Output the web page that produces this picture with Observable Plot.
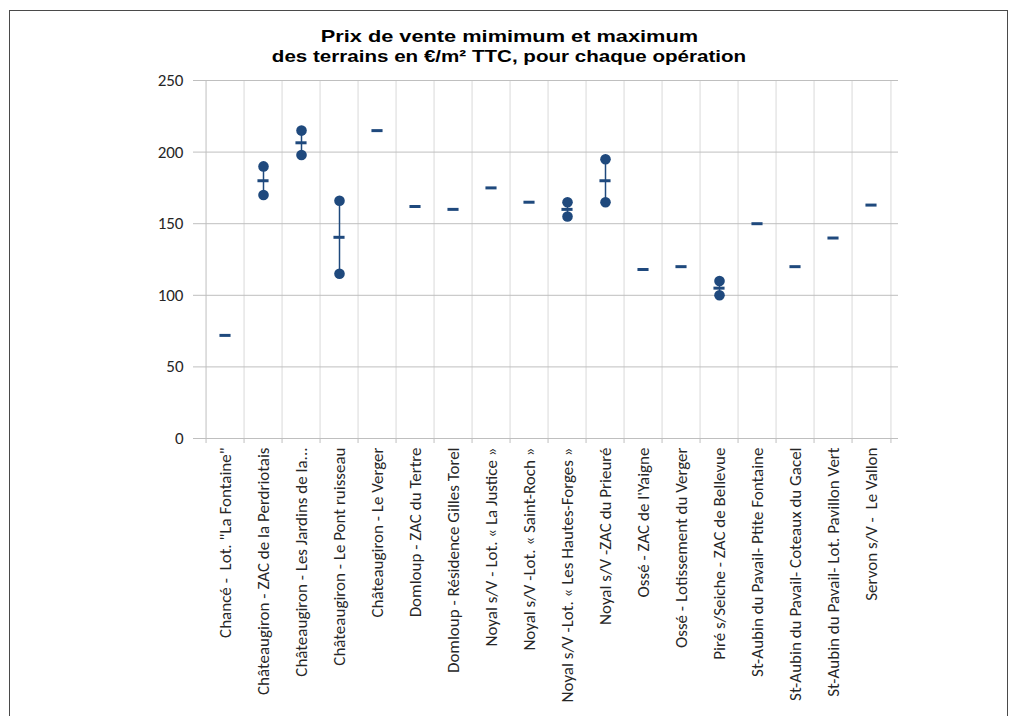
<!DOCTYPE html>
<html>
<head>
<meta charset="utf-8">
<script src="https://cdn.jsdelivr.net/npm/d3@7"></script>
<script src="https://cdn.jsdelivr.net/npm/@observablehq/plot@0.6"></script>
<style>
  html, body { margin: 0; padding: 0; background: #fff; }
  body { width: 1016px; height: 716px; overflow: hidden; position: relative; }
  #frame { position: absolute; left: 9px; top: 10px; width: 997px; height: 720px;
           border: 1.5px solid #4a4a4a; border-bottom: none; }
  #title { position: absolute; left: 10px; top: 27px; width: 998px; text-align: center;
           font: bold 17px "Liberation Sans", Arial, sans-serif; line-height: 19.5px; color: #000; }
  #title span { display: inline-block; transform-origin: 50% 50%; }
  #t1 { transform: scaleX(1.28); }
  #t2 { transform: scaleX(1.21); }
  #chart { position: absolute; left: 0; top: 70px; }
  #chart text { white-space: pre; }
</style>
</head>
<body>
<div id="frame"></div>
<div id="title"><span id="t1">Prix de vente mimimum et maximum</span><br><span id="t2">des terrains en €/m² TTC, pour chaque opération</span></div>
<div id="chart"></div>
<script>
const categories = [
  'Chancé -  Lot. "La Fontaine"',
  "Châteaugiron - ZAC de la Perdriotais",
  "Châteaugiron - Les Jardins de la...",
  "Châteaugiron - Le Pont ruisseau",
  "Châteaugiron - Le Verger",
  "Domloup - ZAC du Tertre",
  "Domloup - Résidence Gilles Torel",
  "Noyal s/V - Lot. « La Justice »",
  "Noyal s/V -Lot. « Saint-Roch »",
  "Noyal s/V -Lot. « Les Hautes-Forges »",
  "Noyal s/V -ZAC du Prieuré",
  "Ossé - ZAC de l'Yaigne",
  "Ossé - Lotissement du Verger",
  "Piré s/Seiche - ZAC de Bellevue",
  "St-Aubin du Pavail- Ptite Fontaine",
  "St-Aubin du Pavail- Coteaux du Gacel",
  "St-Aubin du Pavail- Lot. Pavillon Vert",
  "Servon s/V -  Le Vallon"
];
const minValues = [null, 170, 198, 115, null, null, null, null, null, 155, 165, null, null, 100, null, null, null, null];
const maxValues = [null, 190, 215, 166, null, null, null, null, null, 165, 195, null, null, 110, null, null, null, null];
const midValues = [72, 180, 206.5, 140.5, 215, 162, 160, 175, 165, 160, 180, 118, 120, 105, 150, 120, 140, 163];
const yTicks = [0, 50, 100, 150, 200, 250];

const rows = categories.map((name, i) => ({name, min: minValues[i], max: maxValues[i], mid: midValues[i]}));
const ranged = rows.filter(d => d.min != null && d.max != null);

const blue = "#1f497d";
const W = 1016, ML = 198, MR = 118;
const bw = (W - ML - MR) / categories.length;
const last = [categories[categories.length - 1]];
const labelFont = "'Carlito', 'Open Sans', sans-serif";

const chart = Plot.plot({
  width: W,
  height: 646,
  marginLeft: ML,
  marginRight: MR,
  marginTop: 10,
  marginBottom: 278,
  style: {fontFamily: labelFont, fontSize: "17px", background: "transparent"},
  x: {domain: categories, padding: 0, axis: null},
  y: {domain: [0, 250], axis: null},
  marks: [
    Plot.ruleX(categories.slice(1), {x: d => d, y1: 0, y2: 250, dx: -bw / 2, stroke: "#d9d9d9", strokeWidth: 1}),
    Plot.ruleX(last, {x: d => d, y1: 0, y2: 250, dx: bw / 2, stroke: "#d9d9d9", strokeWidth: 1}),
    Plot.ruleY(yTicks, {stroke: "#bfbfbf", strokeWidth: 1}),
    Plot.ruleX(categories.slice(0, 1), {x: d => d, y1: 0, y2: 250, dx: -bw / 2, stroke: "#bfbfbf", strokeWidth: 1}),
    Plot.ruleX(categories, {x: d => d, y1: 0, y2: 0, insetBottom: -5, dx: -bw / 2, stroke: "#bfbfbf"}),
    Plot.ruleX(last, {x: d => d, y1: 0, y2: 0, insetBottom: -5, dx: bw / 2, stroke: "#bfbfbf"}),
    Plot.axisY({ticks: yTicks, tickSize: 5, tickPadding: 10, stroke: "#bfbfbf", fill: "#262626", fontSize: 17, label: null}),
    Plot.axisX({tickSize: 0, tickPadding: 9, tickRotate: -90, fill: "#262626", fontSize: 17, label: null}),
    Plot.ruleX(ranged, {x: "name", y1: "min", y2: "max", stroke: blue, strokeWidth: 1.5}),
    Plot.dot(ranged, {x: "name", y: "min", r: 5.3, fill: blue, stroke: null}),
    Plot.dot(ranged, {x: "name", y: "max", r: 5.3, fill: blue, stroke: null}),
    Plot.tickY(rows, {x: "name", y: "mid", stroke: blue, strokeWidth: 3, insetLeft: (bw - 12) / 2, insetRight: (bw - 12) / 2})
  ]
});
document.getElementById("chart").appendChild(chart);
</script>
</body>
</html>
